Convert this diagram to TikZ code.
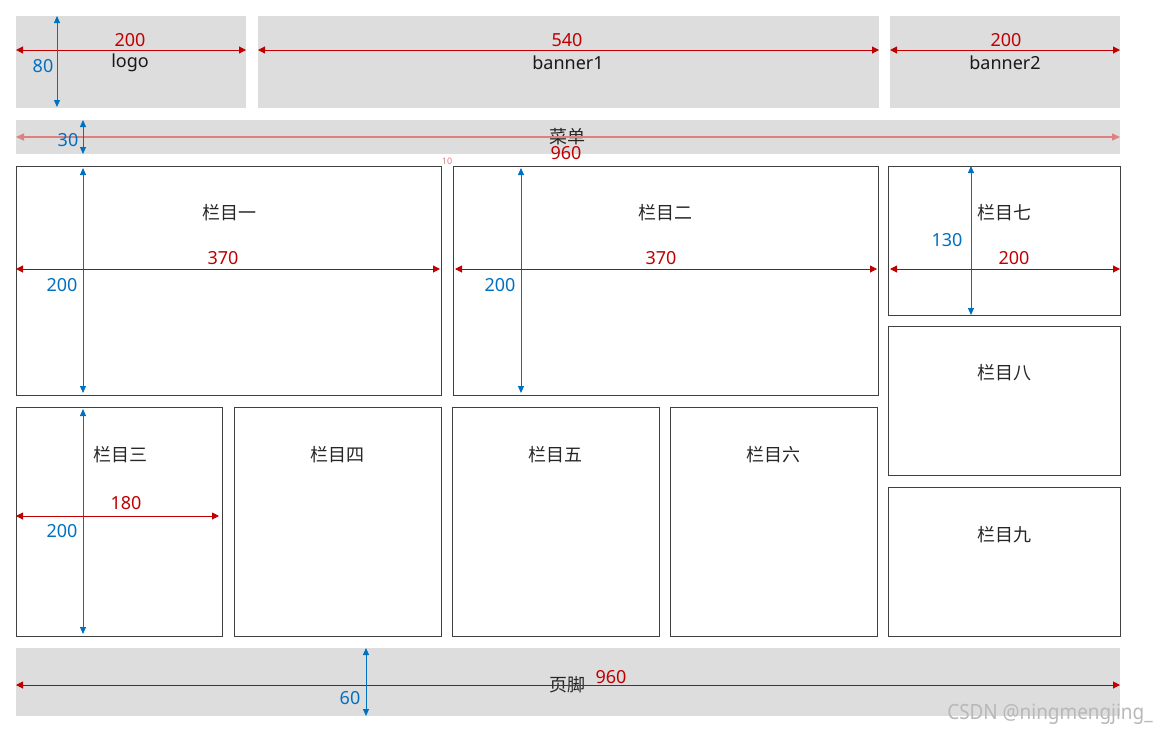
\documentclass[tikz,border=0pt]{standalone}
\usepackage{fontspec}
\setmainfont{Noto Sans}
\newfontfamily\cjk{Noto Sans CJK SC}
\usetikzlibrary{arrows.meta}
\definecolor{panelgray}{HTML}{DDDDDD}
\definecolor{boxline}{HTML}{404040}
\definecolor{dimred}{HTML}{C00000}
\definecolor{dimblue}{HTML}{0070C0}
\definecolor{dimpink}{HTML}{DC8080}
\definecolor{wm}{HTML}{B8B8B8}
\begin{document}
\begin{tikzpicture}[x=1pt,y=-1pt,
  gbox/.style={fill=panelgray,draw=none,anchor=north west,inner sep=0pt,outer sep=0pt},
  wbox/.style={draw=boxline,line width=1pt,fill=white,anchor=north west,inner sep=0pt,outer sep=0pt},
  reddim/.style={draw=dimred,line width=1pt,{Triangle[length=7pt,width=7pt]}-{Triangle[length=7pt,width=7pt]}},
  pinkdim/.style={draw=dimpink,line width=1.3pt,{Triangle[length=8pt,width=7pt]}-{Triangle[length=8pt,width=7pt]}},
  bluedim/.style={draw=dimblue,line width=1pt,{Triangle[length=7pt,width=6pt]}-{Triangle[length=7pt,width=6pt]}},
  rednum/.style={text=dimred,font=\fontsize{18}{18}\selectfont,inner sep=0pt},
  bluenum/.style={text=dimblue,font=\fontsize{18}{18}\selectfont,inner sep=0pt},
  lbl/.style={text=black!90,font=\fontsize{18}{18}\selectfont,inner sep=0pt},
  cn/.style={text=black!85,font=\cjk\fontsize{18}{18}\selectfont,inner sep=0pt}]
\useasboundingbox (0,0) rectangle (1170,734);
% panels
\node[gbox,minimum width=230pt,minimum height=92pt] (logo) at (16,16) {};
\node[gbox,minimum width=621pt,minimum height=92pt] (banner1) at (258,16) {};
\node[gbox,minimum width=230pt,minimum height=92pt] (banner2) at (890,16) {};
\node[gbox,minimum width=1104pt,minimum height=34pt] (menu) at (16,120) {};
\node[gbox,minimum width=1104pt,minimum height=68pt] (footer) at (16,648) {};
\node[wbox,minimum width=425pt,minimum height=229pt] (c1) at (16,166) {};
\node[wbox,minimum width=425pt,minimum height=229pt] (c2) at (453,166) {};
\node[wbox,minimum width=232pt,minimum height=149pt] (c7) at (888,166) {};
\node[wbox,minimum width=232pt,minimum height=149pt] (c8) at (888,326) {};
\node[wbox,minimum width=232pt,minimum height=149pt] (c9) at (888,487) {};
\node[wbox,minimum width=206pt,minimum height=229pt] (c3) at (16,407) {};
\node[wbox,minimum width=207pt,minimum height=229pt] (c4) at (234,407) {};
\node[wbox,minimum width=207pt,minimum height=229pt] (c5) at (452,407) {};
\node[wbox,minimum width=207pt,minimum height=229pt] (c6) at (670,407) {};
% labels
\node[lbl] (tlogo) at (130,63) {logo};
\node[lbl] (tb1) at (568,63) {banner1};
\node[lbl] (tb2) at (1005,63) {banner2};
\node[cn] (tmenu) at (567,137) {菜单};
\node[cn] (tfoot) at (567,685) {页脚};
\node[cn] (t1) at (229,213) {栏目一};
\node[cn] (t2) at (665,213) {栏目二};
\node[cn] (t7) at (1004,213) {栏目七};
\node[cn] (t8) at (1004,373) {栏目八};
\node[cn] (t9) at (1004,535) {栏目九};
\node[cn] (t3) at (120,455) {栏目三};
\node[cn] (t4) at (337,455) {栏目四};
\node[cn] (t5) at (555,455) {栏目五};
\node[cn] (t6) at (773,455) {栏目六};
% dimension arrows
\draw[reddim] (16,50) -- (246,50);
\draw[bluedim] (57,16) -- (57,107);
\draw[reddim] (258,50) -- (879,50);
\draw[reddim] (890,50) -- (1120,50);
\draw[pinkdim] (16,137) -- (1120,137);
\draw[bluedim] (83,120) -- (83,154);
\draw[bluedim] (83,168) -- (83,393);
\draw[reddim] (16,269) -- (440,269);
\draw[bluedim] (521,168) -- (521,393);
\draw[reddim] (455,269) -- (877,269);
\draw[bluedim] (971,166) -- (971,315);
\draw[reddim] (890,269) -- (1120,269);
\draw[bluedim] (83,409) -- (83,634);
\draw[reddim] (16,516) -- (219,516);
\draw[reddim] (16,685) -- (1120,685);
\draw[bluedim] (366,648) -- (366,716);
% dimension numbers
\node[rednum] (n1) at (130,40) {200};
\node[bluenum] (n2) at (43,66) {80};
\node[rednum] (n3) at (567,40) {540};
\node[rednum] (n4) at (1006,40) {200};
\node[bluenum] (n5) at (68,140) {30};
\node[rednum] (n6) at (566,153) {960};
\node[text=dimpink,font=\fontsize{9}{9}\selectfont,inner sep=0pt] (n7) at (447,161) {10};
\node[bluenum] (n8) at (62,285) {200};
\node[rednum] (n9) at (223,258) {370};
\node[bluenum] (n10) at (500,285) {200};
\node[rednum] (n11) at (661,258) {370};
\node[bluenum] (n12) at (947,240) {130};
\node[rednum] (n13) at (1014,258) {200};
\node[bluenum] (n14) at (62,531) {200};
\node[rednum] (n15) at (126,503) {180};
\node[rednum] (n16) at (611,677) {960};
\node[bluenum] (n17) at (350,698) {60};
\node[text=wm,font=\fontsize{21}{21}\selectfont,inner sep=0pt,xscale=0.9] (wmk) at (1050,714) {CSDN @ningmengjing\_};
\end{tikzpicture}
\end{document}
